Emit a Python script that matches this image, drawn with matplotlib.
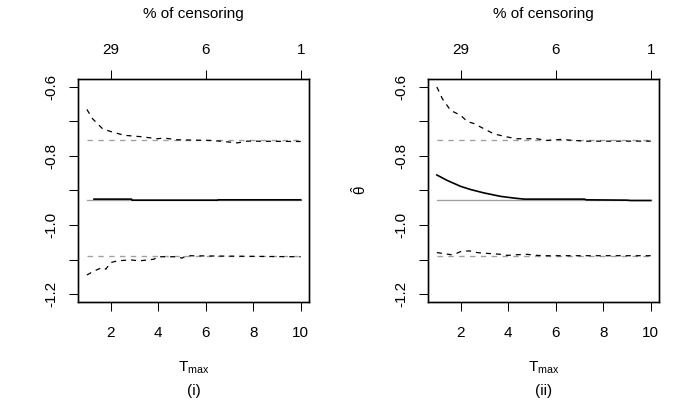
import matplotlib
matplotlib.use("Agg")
import matplotlib.pyplot as plt

plt.rcParams['font.family'] = ['Liberation Sans', 'DejaVu Sans']
plt.rcParams['mathtext.fontset'] = 'custom'
plt.rcParams['mathtext.rm'] = 'Liberation Sans'
plt.rcParams['mathtext.it'] = 'Liberation Sans:italic'
plt.rcParams['mathtext.bf'] = 'Liberation Sans:bold'

# ---- data -------------------------------------------------------------
true_theta = -0.927
true_upper = -0.755
true_lower = -1.090

x_ticks = [2, 4, 6, 8, 10]
top_ticks = [2, 6, 10]
top_labels = ["29", "6", "1"]
y_ticks = [-0.6, -0.7, -0.8, -0.9, -1.0, -1.1, -1.2]
y_labels = ["-0.6", "", "-0.8", "", "-1.0", "", "-1.2"]

# panel (i)
i_up_x = [1.0, 1.24, 1.66, 2.0, 2.57, 3.27, 3.97, 4.25, 4.81, 6.2, 6.6, 7.33, 7.75, 10.0]
i_up_y = [-0.665, -0.692, -0.721, -0.729, -0.740, -0.744, -0.750, -0.748, -0.753,
          -0.755, -0.757, -0.762, -0.757, -0.758]
i_est_x = [1.3, 2.88, 2.9, 6.5, 6.52, 10.0]
i_est_y = [-0.925, -0.925, -0.928, -0.928, -0.927, -0.927]
i_lo_x = [1.0, 1.31, 1.66, 1.8, 2.0, 2.28, 2.84, 3.2, 3.83, 3.97, 4.8, 5.0, 5.2, 6.5, 10.0]
i_lo_y = [-1.145, -1.133, -1.123, -1.128, -1.109, -1.104, -1.101, -1.104, -1.099,
          -1.092, -1.092, -1.096, -1.089, -1.090, -1.092]

# panel (ii)
ii_up_x = [1.0, 1.23, 1.58, 2.0, 2.28, 2.56, 2.98, 3.4, 3.97, 4.35, 5.2, 5.6, 6.2, 7.2, 10.0]
ii_up_y = [-0.600, -0.634, -0.668, -0.682, -0.700, -0.706, -0.721, -0.736, -0.745,
           -0.750, -0.750, -0.755, -0.752, -0.757, -0.757]
ii_est_x = [1.0, 1.44, 2.0, 2.41, 2.98, 3.68, 4.25, 4.67, 7.2, 7.3, 9.0, 9.15, 10.0]
ii_est_y = [-0.855, -0.871, -0.888, -0.897, -0.907, -0.917, -0.922, -0.925, -0.925,
            -0.927, -0.928, -0.929, -0.929]
ii_lo_x = [1.0, 1.31, 1.6, 1.8, 2.0, 2.36, 2.7, 3.27, 3.7, 3.97, 4.4, 4.8, 5.2, 5.5, 10.0]
ii_lo_y = [-1.080, -1.083, -1.086, -1.083, -1.077, -1.075, -1.080, -1.083, -1.085,
           -1.088, -1.086, -1.085, -1.088, -1.089, -1.089]

panels = [
    ("(i)", i_up_x, i_up_y, i_est_x, i_est_y, i_lo_x, i_lo_y, False),
    ("(ii)", ii_up_x, ii_up_y, ii_est_x, ii_est_y, ii_lo_x, ii_lo_y, True),
]

# ---- figure -----------------------------------------------------------
W, H = 695, 411
fig = plt.figure(figsize=(W / 100, H / 100), dpi=100)
fig.patch.set_facecolor("white")

lefts_px = [78.3, 428.3]
ax_w_px = 231.0
top_px, bot_px = 78.7, 302.3
lw = 0.75
gray = "#a0a0a0"
fs = 11

for (tag, ux, uy, ex, ey, lx, ly, ylab), lpx in zip(panels, lefts_px):
    ax = fig.add_axes([lpx / W, 1 - bot_px / H, ax_w_px / W, (bot_px - top_px) / H])
    ax.set_xlim(0.64, 10.36)
    ax.set_ylim(-1.224, -0.576)

    ax.plot([1, 10], [true_theta, true_theta], color=gray, lw=lw * 1.3, zorder=1)
    ax.plot([1, 10], [true_upper, true_upper], color=gray, lw=lw * 1.3,
            ls=(0, (4, 4)), zorder=1)
    ax.plot([1, 10], [true_lower, true_lower], color=gray, lw=lw * 1.3,
            ls=(0, (4, 4)), zorder=1)

    ax.plot(ux, uy, color="black", lw=lw * 1.2, ls=(0, (4, 4)), zorder=2)
    ax.plot(ex, ey, color="black", lw=lw * 1.6, zorder=2)
    ax.plot(lx, ly, color="black", lw=lw * 1.2, ls=(0, (4, 4)), zorder=2)

    ax.set_xticks(x_ticks)
    ax.set_xticklabels([str(t) for t in x_ticks])
    ax.set_yticks(y_ticks)
    ax.set_yticklabels(y_labels)
    ax.tick_params(axis="both", direction="out", length=6.5, width=lw,
                   labelsize=fs, colors="black")
    ax.tick_params(axis="x", pad=10.5)
    ax.tick_params(axis="y", pad=7.5, labelrotation=90)
    for t in ax.get_yticklabels():
        t.set_va("center")
    for s in ax.spines.values():
        s.set_linewidth(lw * 1.3)

    top = ax.twiny()
    top.set_xlim(ax.get_xlim())
    top.set_xticks(top_ticks)
    top.set_xticklabels(top_labels)
    top.tick_params(axis="x", direction="out", length=6.5, width=lw,
                    labelsize=fs, pad=9)
    for s in top.spines.values():
        s.set_linewidth(lw * 1.3)

    cx = (lpx + ax_w_px / 2) / W
    fig.text(cx, 1 - 14 / H, "% of censoring", ha="center", va="center", fontsize=fs)
    fig.text(cx, 1 - 368 / H, r"T$_{\mathrm{max}}$", ha="center", va="center", fontsize=fs)
    fig.text(cx, 1 - 391 / H, tag, ha="center", va="center", fontsize=fs)

    if ylab:
        fig.text(360 / W, 1 - 190 / H, r"$\hat{\mathrm{θ}}$", rotation=90,
                 ha="center", va="center", fontsize=fs)

fig.savefig("out.png", dpi=100)
